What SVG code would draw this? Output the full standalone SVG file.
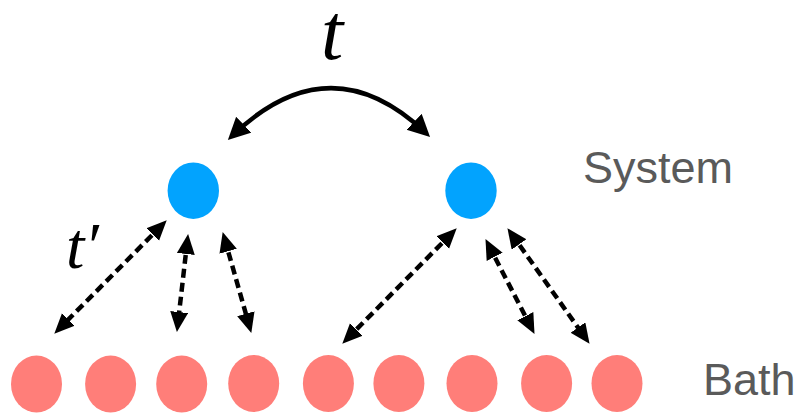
<svg xmlns="http://www.w3.org/2000/svg" width="803" height="416" viewBox="0 0 803 416">
  <style>
    .sys { fill: #02A3FE; }
    .bath { fill: #FF7E79; }
    .lbl { font-family: "Liberation Sans", Arial, sans-serif; font-size: 45px; fill: #5a5a5a; }
    .math { font-family: "Liberation Serif", "DejaVu Serif", serif; font-style: italic; fill: #000; }
    .dash { fill: none; stroke: #000; stroke-width: 4.5; stroke-dasharray: 9 5; }
    .solid { fill: none; stroke: #000; stroke-width: 4.5; }
  </style>
  <defs>
    <marker id="headBig" markerUnits="userSpaceOnUse" markerWidth="24" markerHeight="24" viewBox="0 0 24 24" refX="16" refY="11" orient="auto-start-reverse">
      <path d="M0,0 L22,11 L0,22 Z" fill="#000"/>
    </marker>
    <marker id="head" markerUnits="userSpaceOnUse" markerWidth="22" markerHeight="22" viewBox="0 0 22 22" refX="13" refY="9" orient="auto-start-reverse">
      <path d="M0,0 L20,9 L0,18 Z" fill="#000"/>
    </marker>
  </defs>

  <g id="connectors">
    <path class="solid" d="M232.2,135.8 Q330,42 425.7,132.8" marker-start="url(#headBig)" marker-end="url(#headBig)"/>
    <path class="dash" d="M161.8,225.3 L59.2,328.7" marker-start="url(#head)" marker-end="url(#head)"/>
    <path class="dash" d="M187.3,241 L177.7,325" marker-start="url(#head)" marker-end="url(#head)"/>
    <path class="dash" d="M224.6,238.8 L249.4,326.2" marker-start="url(#head)" marker-end="url(#head)"/>
    <path class="dash" d="M451.8,233.3 L347.2,338.7" marker-start="url(#head)" marker-end="url(#head)"/>
    <path class="dash" d="M488.7,245.3 L531.3,327.7" marker-start="url(#head)" marker-end="url(#head)"/>
    <path class="dash" d="M511.5,233.9 L585.5,338.1" marker-start="url(#head)" marker-end="url(#head)"/>
  </g>

  <g id="label-t"><text class="math" x="332" y="59" font-size="80" text-anchor="middle">t</text></g>
  <g id="label-tprime"><text class="math" x="66" y="268" font-size="66">t′</text></g>

  <g id="system-1"><ellipse class="sys" cx="193.3" cy="190.7" rx="25.7" ry="28.3"/></g>
  <g id="system-2"><ellipse class="sys" cx="471" cy="190.7" rx="25.7" ry="28.3"/></g>
  <g id="label-system"><text class="lbl" x="583" y="183">System</text></g>

  <g id="bath-1"><ellipse class="bath" cx="36.5" cy="384" rx="25.5" ry="28.5"/></g>
  <g id="bath-2"><ellipse class="bath" cx="110.6" cy="384" rx="25.5" ry="28.5"/></g>
  <g id="bath-3"><ellipse class="bath" cx="181.7" cy="384" rx="25.5" ry="28.5"/></g>
  <g id="bath-4"><ellipse class="bath" cx="253.7" cy="383.5" rx="25.5" ry="28.5"/></g>
  <g id="bath-5"><ellipse class="bath" cx="328.4" cy="383.5" rx="25.5" ry="28.5"/></g>
  <g id="bath-6"><ellipse class="bath" cx="398.9" cy="383.5" rx="25.5" ry="28.5"/></g>
  <g id="bath-7"><ellipse class="bath" cx="472" cy="383.5" rx="25.5" ry="28.5"/></g>
  <g id="bath-8"><ellipse class="bath" cx="546.6" cy="383.5" rx="25.5" ry="28.5"/></g>
  <g id="bath-9"><ellipse class="bath" cx="617" cy="383.5" rx="25.5" ry="28.5"/></g>
  <g id="label-bath"><text class="lbl" x="703" y="395">Bath</text></g>
</svg>
